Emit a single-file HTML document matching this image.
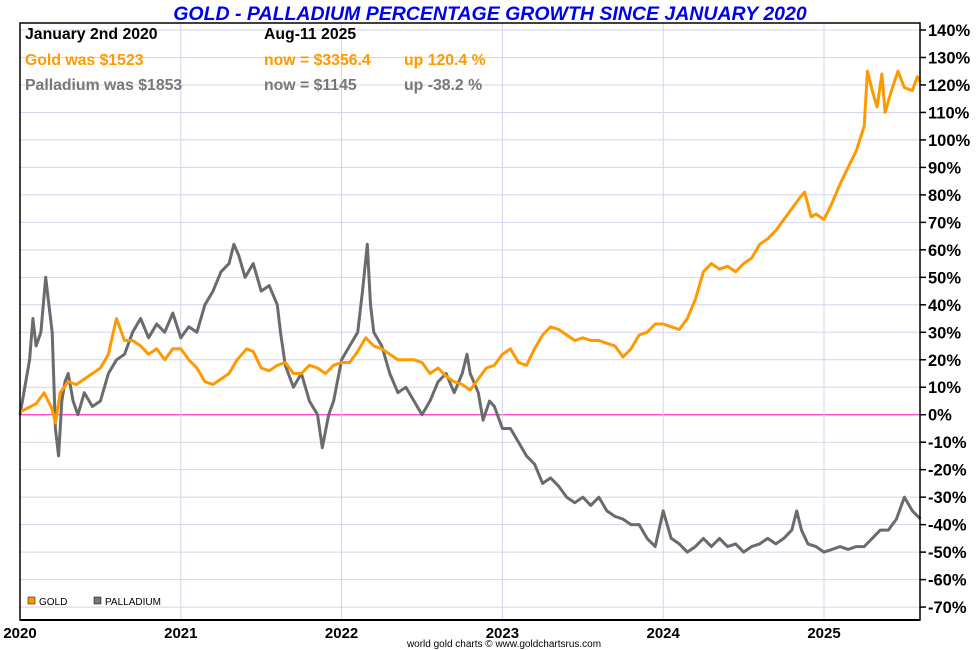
<!DOCTYPE html>
<html><head><meta charset="utf-8"><style>
body{margin:0;background:#fff;}
svg{display:block;font-family:"Liberation Sans",sans-serif;}
</style></head><body>
<svg id="chart" width="980" height="650">
<text x="490" y="20" text-anchor="middle" font-size="19.5" font-weight="bold" font-style="italic" fill="#0000ee">GOLD - PALLADIUM PERCENTAGE GROWTH SINCE JANUARY 2020</text>
<g id="grid"></g>
<g id="series"></g>
<rect x="20" y="23" width="900" height="597" fill="none" stroke="#000" stroke-width="1.5"/>
<line x1="20" y1="620" x2="920" y2="620" stroke="#000" stroke-width="2"/>
<g id="yaxis"></g>
<g id="xaxis"></g>
<g font-size="15.8" font-weight="bold">
<text x="25" y="39" fill="#000">January 2nd 2020</text>
<text x="264" y="39" fill="#000">Aug-11  2025</text>
<text x="25" y="65" fill="#f90">Gold was $1523</text>
<text x="264" y="65" fill="#f90">now = $3356.4</text>
<text x="404" y="65" fill="#f90">up 120.4 %</text>
<text x="25" y="90" fill="#777">Palladium was $1853</text>
<text x="264" y="90" fill="#777">now = $1145</text>
<text x="404" y="90" fill="#777">up -38.2 %</text>
</g>
<g font-size="10">
<rect x="28" y="597" width="7" height="7" fill="#f90" stroke="#000" stroke-width="0.5"/>
<text x="39" y="605" fill="#000">GOLD</text>
<rect x="94" y="597" width="7" height="7" fill="#777" stroke="#000" stroke-width="0.5"/>
<text x="105" y="605" fill="#000">PALLADIUM</text>
</g>
<text x="504" y="647" text-anchor="middle" font-size="10" fill="#000">world gold charts © www.goldchartsrus.com</text>
</svg>
<script>
const yTicks=[140,130,120,110,100,90,80,70,60,50,40,30,20,10,0,-10,-20,-30,-40,-50,-60,-70];
const yearLabels=["2020","2021","2022","2023","2024","2025"];
const goldT=[0,.1,.15,.2,.22,.25,.3,.35,.4,.45,.5,.55,.58,.6,.65,.7,.75,.8,.85,.9,.95,1,1.05,1.1,1.15,1.2,1.25,1.3,1.35,1.41,1.45,1.5,1.55,1.6,1.65,1.7,1.75,1.8,1.85,1.9,1.95,2,2.05,2.1,2.15,2.2,2.25,2.3,2.35,2.4,2.45,2.5,2.55,2.6,2.65,2.7,2.75,2.8,2.85,2.9,2.95,3,3.05,3.1,3.15,3.2,3.25,3.3,3.35,3.4,3.45,3.5,3.55,3.6,3.65,3.7,3.75,3.8,3.85,3.9,3.95,4,4.05,4.1,4.15,4.2,4.25,4.3,4.35,4.4,4.45,4.5,4.55,4.6,4.65,4.7,4.75,4.8,4.85,4.88,4.92,4.95,5,5.05,5.1,5.15,5.2,5.25,5.27,5.3,5.33,5.36,5.38,5.42,5.46,5.5,5.55,5.58,5.6];
const goldV=[1,4,8,2,-3,8,12,11,13,15,17,22,30,35,27,27,25,22,24,20,24,24,20,17,12,11,13,15,20,24,23,17,16,18,19,15,15,18,17,15,18,19,19,23,28,25,24,22,20,20,20,19,15,17,14,12,11,9,13,17,18,22,24,19,18,24,29,32,31,29,27,28,27,27,26,25,21,24,29,30,33,33,32,31,35,42,52,55,53,54,52,55,57,62,64,67,71,75,79,81,72,73,71,77,84,90,96,105,125,118,112,124,110,118,125,119,118,123,121];
const palT=[0,.03,.06,.08,.1,.13,.16,.18,.2,.22,.24,.26,.28,.3,.33,.36,.4,.45,.5,.55,.6,.65,.7,.75,.8,.85,.9,.95,1,1.05,1.1,1.15,1.2,1.25,1.3,1.33,1.36,1.4,1.45,1.5,1.55,1.6,1.62,1.65,1.7,1.75,1.8,1.85,1.88,1.92,1.95,2,2.05,2.1,2.13,2.16,2.18,2.2,2.25,2.3,2.35,2.4,2.45,2.5,2.55,2.6,2.65,2.7,2.75,2.78,2.8,2.85,2.88,2.92,2.95,3,3.05,3.1,3.15,3.2,3.25,3.3,3.35,3.4,3.45,3.5,3.55,3.6,3.65,3.7,3.75,3.8,3.85,3.9,3.95,4,4.05,4.1,4.15,4.2,4.25,4.3,4.35,4.4,4.45,4.5,4.55,4.6,4.65,4.7,4.75,4.8,4.83,4.86,4.9,4.95,5,5.05,5.1,5.15,5.2,5.25,5.3,5.35,5.4,5.45,5.5,5.55,5.6];
const palV=[0,10,20,35,25,30,50,40,30,-5,-15,5,12,15,5,0,8,3,5,15,20,22,30,35,28,33,30,37,28,32,30,40,45,52,55,62,58,50,55,45,47,40,30,18,10,15,5,0,-12,0,5,20,25,30,45,62,40,30,25,15,8,10,5,0,5,12,15,8,15,22,15,8,-2,5,3,-5,-5,-10,-15,-18,-25,-23,-26,-30,-32,-30,-33,-30,-35,-37,-38,-40,-40,-45,-48,-35,-45,-47,-50,-48,-45,-48,-45,-48,-47,-50,-48,-47,-45,-47,-45,-42,-35,-42,-47,-48,-50,-49,-48,-49,-48,-48,-45,-42,-42,-38,-30,-35,-38];
const NS="http://www.w3.org/2000/svg";
const X0=20,XR=920,PX=160.8;
const Y140=30,PY=2.748;
function xs(t){return X0+t*PX;}
function ys(v){return Y140+(140-v)*PY;}
function mk(tag,attrs,parent){const e=document.createElementNS(NS,tag);for(const k in attrs)e.setAttribute(k,attrs[k]);parent.appendChild(e);return e;}
const grid=document.getElementById('grid'),yax=document.getElementById('yaxis'),xax=document.getElementById('xaxis'),ser=document.getElementById('series');
yTicks.forEach(v=>{
  const y=ys(v);
  const g=mk('line',{x1:X0,x2:XR,y1:y,y2:y,stroke:v===0?'#ff33cc':'#d4d4ee','stroke-width':v===0?1.2:1},grid);
  
  
  const tk=mk('line',{x1:XR,x2:XR+6,y1:y,y2:y,stroke:'#000','stroke-width':1.5},yax);
  
  
  const t=mk('text',{x:928,y:y+6,'font-size':16.5,'font-weight':'bold',fill:'#000'},yax);
  t.textContent=v+'%';
  
  
});
yearLabels.forEach((l,i)=>{
  const x=xs(i);
  if(i>0){const g=mk('line',{x1:x,x2:x,y1:23,y2:620,stroke:'#d4d4ee','stroke-width':1},grid);
  
  }
  const t=mk('text',{x:x,y:638,'font-size':15,'font-weight':'bold','text-anchor':'middle',fill:'#000'},xax);
  t.textContent=l;
  
  
});
function line(T,V,color,name){
  const d=T.map((t,i)=>(i?'L':'M')+xs(t).toFixed(1)+','+ys(V[i]).toFixed(1)).join('');
  const p=mk('path',{d:d,fill:'none',stroke:color,'stroke-width':3,'stroke-linejoin':'round'},ser);
  
  
}
line(palT,palV,'#6b6b6b','palladium-line');
line(goldT,goldV,'#ff9900','gold-line');
</script>
</body></html>
